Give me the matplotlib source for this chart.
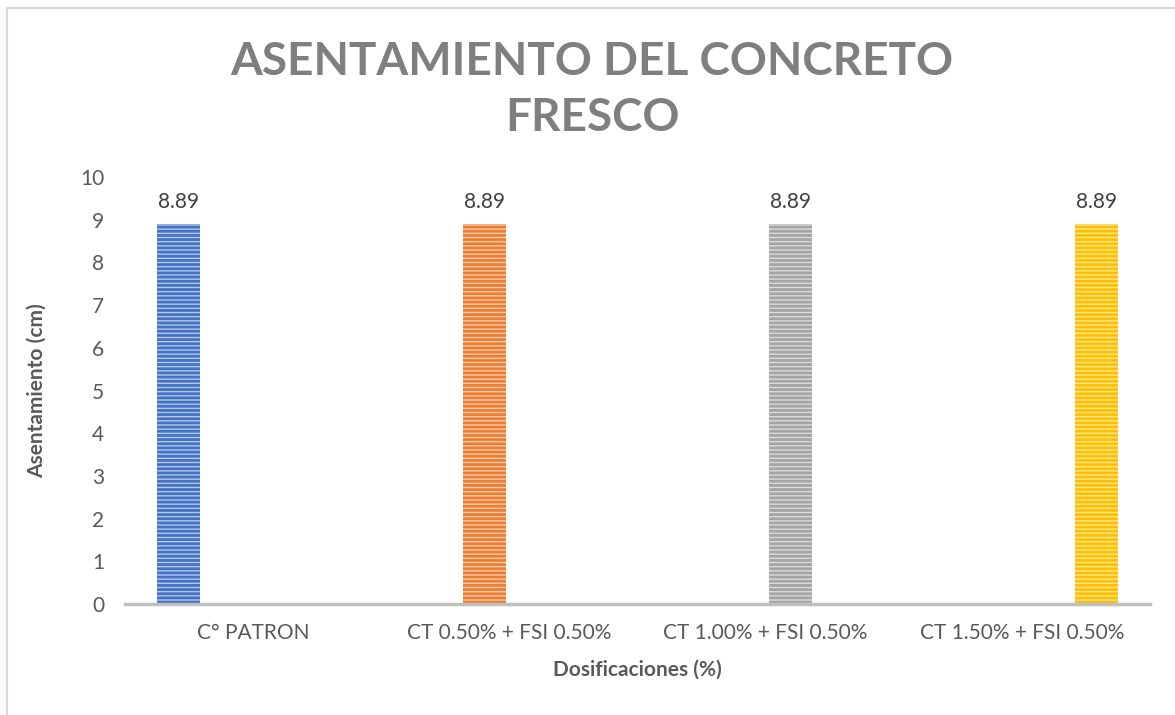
import matplotlib.pyplot as plt
from matplotlib.lines import Line2D
import matplotlib.colors as mcolors
import numpy as np

categories = ['C° PATRON', 'CT 0.50% + FSI 0.50%', 'CT 1.00% + FSI 0.50%', 'CT 1.50% + FSI 0.50%']
asentamiento = [8.89, 8.89, 8.89, 8.89]
bar_colors = ['#4472C4', '#ED7D31', '#A5A5A5', '#FFC000']

plt.rcParams['font.family'] = ['Lato', 'DejaVu Sans']
plt.rcParams['hatch.linewidth'] = 2.0

fig = plt.figure(figsize=(11.75, 7.15), dpi=100)
ax = fig.add_axes([0.1064, 0.1552, 0.8723, 0.5972])

# Excel style clustered bars: each series sits in its own slot of the cluster
n = len(categories)
slot = 0.195
x = np.arange(n)
for i, (val, col) in enumerate(zip(asentamiento, bar_colors)):
    xi = x[i] + (i - (n - 1) / 2) * slot
    light = tuple(0.6 + 0.4 * c for c in mcolors.to_rgb(col))
    ax.bar(xi, val, width=0.168, color=light, edgecolor=col, hatch='----', linewidth=0)
    ax.text(xi, val + 0.3, f'{val:.2f}', ha='center', va='bottom', fontsize=15, color='#404040')

ax.set_xlim(-0.5, n - 0.5)
ax.set_ylim(0, 10)
ax.set_yticks(range(0, 11))
ax.set_xticks(x)
ax.set_xticklabels(categories)
ax.tick_params(axis='both', length=0, labelsize=15, colors='#595959')
ax.tick_params(axis='y', pad=15)
ax.tick_params(axis='x', pad=14)

for side in ['top', 'right', 'left']:
    ax.spines[side].set_visible(False)
ax.spines['bottom'].set_color('#BFBFBF')
ax.spines['bottom'].set_linewidth(2.5)

ax.set_xlabel('Dosificaciones (%)', fontsize=15, fontweight='bold', color='#595959', labelpad=12)
ax.set_ylabel('Asentamiento (cm)', fontsize=15, fontweight='bold', color='#595959', labelpad=24)

fig.text(0.504, 0.913, 'ASENTAMIENTO DEL CONCRETO', ha='center', va='center',
         fontsize=33, fontweight='bold', color='#7F7F7F')
fig.text(0.504, 0.835, 'FRESCO', ha='center', va='center',
         fontsize=33, fontweight='bold', color='#7F7F7F')

# chart area border (top and left visible)
fig.add_artist(Line2D([7 / 1175, 7 / 1175], [0, 1 - 8 / 715], color='#D9D9D9', lw=1.5))
fig.add_artist(Line2D([7 / 1175, 1], [1 - 8 / 715, 1 - 8 / 715], color='#D9D9D9', lw=1.5))

fig.savefig('out.png', dpi=100)
